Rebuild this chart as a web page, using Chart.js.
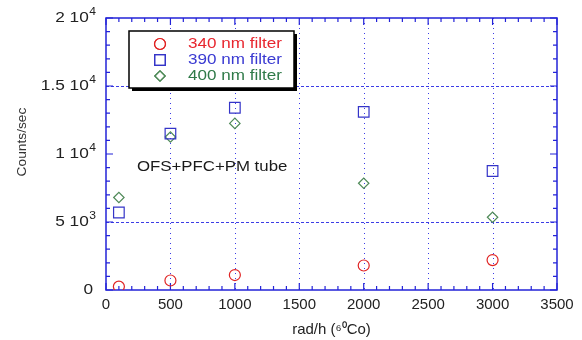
<!DOCTYPE html>
<html>
<head>
<meta charset="utf-8">
<script src="https://cdn.jsdelivr.net/npm/chart.js@4/dist/chart.umd.min.js"></script>
<style>
  html, body { margin: 0; padding: 0; background: #fff; }
  canvas { display: block; }
</style>
</head>
<body>
<canvas id="chart" width="582" height="340"></canvas>
<script>
// data
const doseRates = [100, 500, 1000, 2000, 3000];
const counts340 = [250, 700, 1100, 1800, 2200];
const counts390 = [5700, 11500, 13400, 13100, 8750];
const counts400 = [6800, 11250, 12250, 7850, 5350];
const seriesNames = ['340 nm filter', '390 nm filter', '400 nm filter'];

const yTickValues = [0, 5000, 10000, 15000, 20000];
const yTickMantissa = ['0', '5 10', '1 10', '1.5 10', '2 10'];
const yTickExponent = ['', '3', '4', '4', '4'];
const xGridValues = [500, 1000, 1500, 2000, 2500, 3000];
const yGridValues = [5000, 15000];

const FONT = '"Liberation Sans", Arial, sans-serif';
const AXIS_BLUE = '#2323d8';
const colors = ['#e02424', '#3434c8', '#4f8a58'];
const textColors = ['#e8262e', '#3a3ad2', '#2f7a48'];
const styles = ['circle', 'rect', 'rectRot'];
const radii = [5.5, 7.5, 5.2];

function drawText(ctx, s, x, y, size, color, align, sx) {
    ctx.save();
    ctx.font = size + 'px ' + FONT;
    ctx.fillStyle = color;
    ctx.textBaseline = 'middle';
    ctx.textAlign = 'left';
    const w = ctx.measureText(s).width * sx;
    let x0 = x;
    if (align === 'right') x0 = x - w;
    if (align === 'center') x0 = x - w / 2;
    ctx.translate(x0, y);
    ctx.scale(sx, 1);
    ctx.fillText(s, 0, 0);
    ctx.restore();
    return w;
}

const decorations = {
    id: 'decorations',
    beforeDatasetsDraw(chart) {
        const ctx = chart.ctx;
        const xs = chart.scales.x, ys = chart.scales.y;
        const a = chart.chartArea;
        ctx.save();
        ctx.strokeStyle = '#3c3ce6';
        ctx.lineWidth = 1;
        // vertical dotted grid
        ctx.setLineDash([1, 4]);
        xGridValues.forEach(v => {
            const px = Math.round(xs.getPixelForValue(v)) + 0.5;
            ctx.beginPath();
            ctx.moveTo(px, a.top);
            ctx.lineTo(px, a.bottom);
            ctx.stroke();
        });
        // horizontal dashed grid
        ctx.setLineDash([3, 2]);
        yGridValues.forEach(v => {
            const py = Math.round(ys.getPixelForValue(v)) + 0.5;
            ctx.beginPath();
            ctx.moveTo(a.left, py);
            ctx.lineTo(a.right, py);
            ctx.stroke();
        });
        ctx.setLineDash([]);

        // frame
        ctx.strokeStyle = AXIS_BLUE;
        ctx.lineWidth = 1.5;
        ctx.strokeRect(a.left, a.top, a.right - a.left, a.bottom - a.top);

        // inward ticks on all sides
        ctx.lineWidth = 1.2;
        for (let v = 0; v <= 3500; v += 100) {
            const px = xs.getPixelForValue(v);
            const len = v % 500 === 0 ? 7 : 4;
            ctx.beginPath();
            ctx.moveTo(px, a.bottom); ctx.lineTo(px, a.bottom - len);
            ctx.moveTo(px, a.top); ctx.lineTo(px, a.top + len);
            ctx.stroke();
        }
        for (let v = 0; v <= 20000; v += 1000) {
            const py = ys.getPixelForValue(v);
            const len = v % 5000 === 0 ? 7 : 4;
            ctx.beginPath();
            ctx.moveTo(a.left, py); ctx.lineTo(a.left + len, py);
            ctx.moveTo(a.right, py); ctx.lineTo(a.right - len, py);
            ctx.stroke();
        }

        // y tick labels with exponents
        yTickValues.forEach((v, i) => {
            const py = ys.getPixelForValue(v);
            let right = a.left - 11;
            if (yTickExponent[i]) {
                const ew = drawText(ctx, yTickExponent[i], right + 1, py - 6, 11, '#222', 'right', 1.1);
                right = right + 1 - ew - 0.5;
            } else {
                right = a.left - 13;
            }
            drawText(ctx, yTickMantissa[i], right, py, 15, '#222', 'right', 1.15);
        });

        // y title
        ctx.save();
        ctx.translate(23, 142);
        ctx.rotate(-Math.PI / 2);
        drawText(ctx, 'Counts/sec', 0, 0, 12.5, '#333', 'center', 1.1);
        ctx.restore();

        // annotation
        drawText(ctx, 'OFS+PFC+PM tube', 137, 167, 14, '#1a1a1a', 'left', 1.2);
        ctx.restore();
    },
    afterDatasetsDraw(chart) {
        const ctx = chart.ctx;
        // legend box with shadow
        const bx = 129, by = 31, bw = 165, bh = 57;
        ctx.save();
        ctx.fillStyle = '#000';
        ctx.fillRect(bx + 3, by + 3, bw, bh);
        ctx.fillStyle = '#fff';
        ctx.fillRect(bx, by, bw, bh);
        ctx.strokeStyle = '#000';
        ctx.lineWidth = 1.5;
        ctx.strokeRect(bx, by, bw, bh);
        const rows = [44, 60, 76];
        seriesNames.forEach((name, i) => {
            ctx.save();
            ctx.strokeStyle = colors[i];
            ctx.lineWidth = 1.2;
            Chart.helpers.drawPoint(ctx, { pointStyle: styles[i], radius: radii[i], borderWidth: 1.2 }, 160, rows[i]);
            ctx.stroke();
            ctx.restore();
            drawText(ctx, name, 188, rows[i], 14, textColors[i], 'left', 1.22);
        });
        ctx.restore();
    }
};

const makeSet = (label, values, i) => ({
    label: label,
    data: doseRates.map((x, k) => ({ x: x, y: values[k] })),
    pointStyle: styles[i],
    pointRadius: radii[i],
    pointHoverRadius: radii[i],
    borderColor: colors[i],
    backgroundColor: 'rgba(0,0,0,0)',
    pointBorderWidth: 1.2,
    showLine: false
});

new Chart(document.getElementById('chart'), {
    type: 'scatter',
    data: {
        datasets: [
            makeSet(seriesNames[0], counts340, 0),
            makeSet(seriesNames[1], counts390, 1),
            makeSet(seriesNames[2], counts400, 2)
        ]
    },
    options: {
        responsive: false,
        animation: false,
        events: [],
        layout: { padding: { top: 18, right: 25, left: 0, bottom: 0 } },
        plugins: { legend: { display: false }, tooltip: { enabled: false } },
        scales: {
            x: {
                type: 'linear',
                min: 0,
                max: 3500,
                grid: { display: false, drawTicks: false },
                border: { display: false },
                ticks: {
                    stepSize: 500,
                    padding: 6,
                    color: '#222',
                    font: { family: FONT, size: 15 },
                    maxRotation: 0,
                    callback: v => String(v)
                },
                title: {
                    display: true,
                    text: 'rad/h (\u2076\u2070Co)',
                    color: '#222',
                    font: { family: FONT, size: 15 },
                    padding: { top: 0, bottom: 1 }
                },
                afterFit(s) { s.height = 50; }
            },
            y: {
                type: 'linear',
                min: 0,
                max: 20000,
                grid: { display: false, drawTicks: false },
                border: { display: false },
                ticks: { display: false, stepSize: 5000 },
                afterFit(s) { s.width = 106; }
            }
        }
    },
    plugins: [decorations]
});
</script>
</body>
</html>
